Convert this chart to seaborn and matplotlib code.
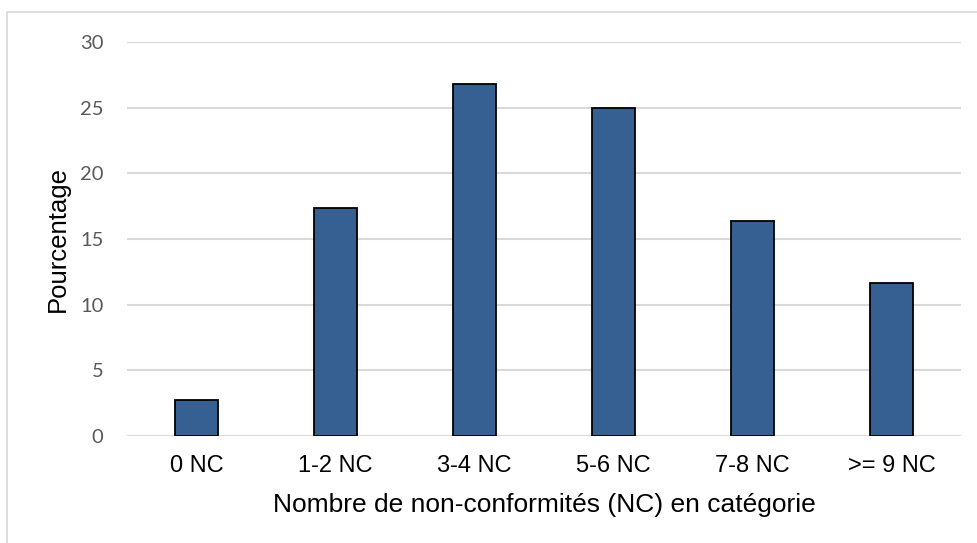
import matplotlib
matplotlib.use("Agg")
import matplotlib.pyplot as plt
from matplotlib.patches import Rectangle
import seaborn as sns
import pandas as pd

categories = ["0 NC", "1-2 NC", "3-4 NC", "5-6 NC", "7-8 NC", ">= 9 NC"]
percentages = [2.75, 17.35, 26.8, 25.0, 16.35, 11.65]
y_ticks = [0, 5, 10, 15, 20, 25, 30]

df = pd.DataFrame({"categorie": categories, "pourcentage": percentages})

sns.set_theme(style="white")
plt.rcParams["font.family"] = ["Liberation Sans", "DejaVu Sans"]

fig = plt.figure(figsize=(9.78, 5.43), dpi=100)
ax = fig.add_axes([127 / 978, 1 - 436 / 543, (961 - 127) / 978, (436 - 42) / 543])

sns.barplot(data=df, x="categorie", y="pourcentage", ax=ax, color="#376092",
            width=0.316, edgecolor="black", linewidth=1.3, saturation=1, zorder=3)

ax.set_ylim(0, 30)
ax.set_xlim(-0.5, len(categories) - 0.5)
ax.set_yticks(y_ticks)
ax.set_yticklabels([str(t) for t in y_ticks], family=["Lato", "DejaVu Sans"],
                   fontsize=14.5, color="#595959")
ax.set_xticks(range(len(categories)))
ax.set_xticklabels(categories, fontsize=17, color="black")
ax.tick_params(axis="both", length=0)
ax.tick_params(axis="y", pad=17)
ax.tick_params(axis="x", pad=14)
ax.yaxis.grid(True, color="#d9d9d9", linewidth=1.5, zorder=0)
ax.set_axisbelow(True)
for s in ax.spines.values():
    s.set_visible(False)

ax.set_ylabel("Pourcentage", fontsize=18.5, color="black")
ax.yaxis.set_label_coords((70 - 127) / 834, 0.5)
ax.set_xlabel("Nombre de non-conformités (NC) en catégorie", fontsize=19,
              color="black", labelpad=11)

# chart area frame (open on the right and bottom)
fig.patches.append(Rectangle((7.5 / 978, -0.1), 1.2, 1.1 - 12.5 / 543,
                             transform=fig.transFigure, fill=False,
                             edgecolor="#d9d9d9", linewidth=1.2, zorder=0))

fig.savefig("out.png", dpi=100, facecolor="white")
